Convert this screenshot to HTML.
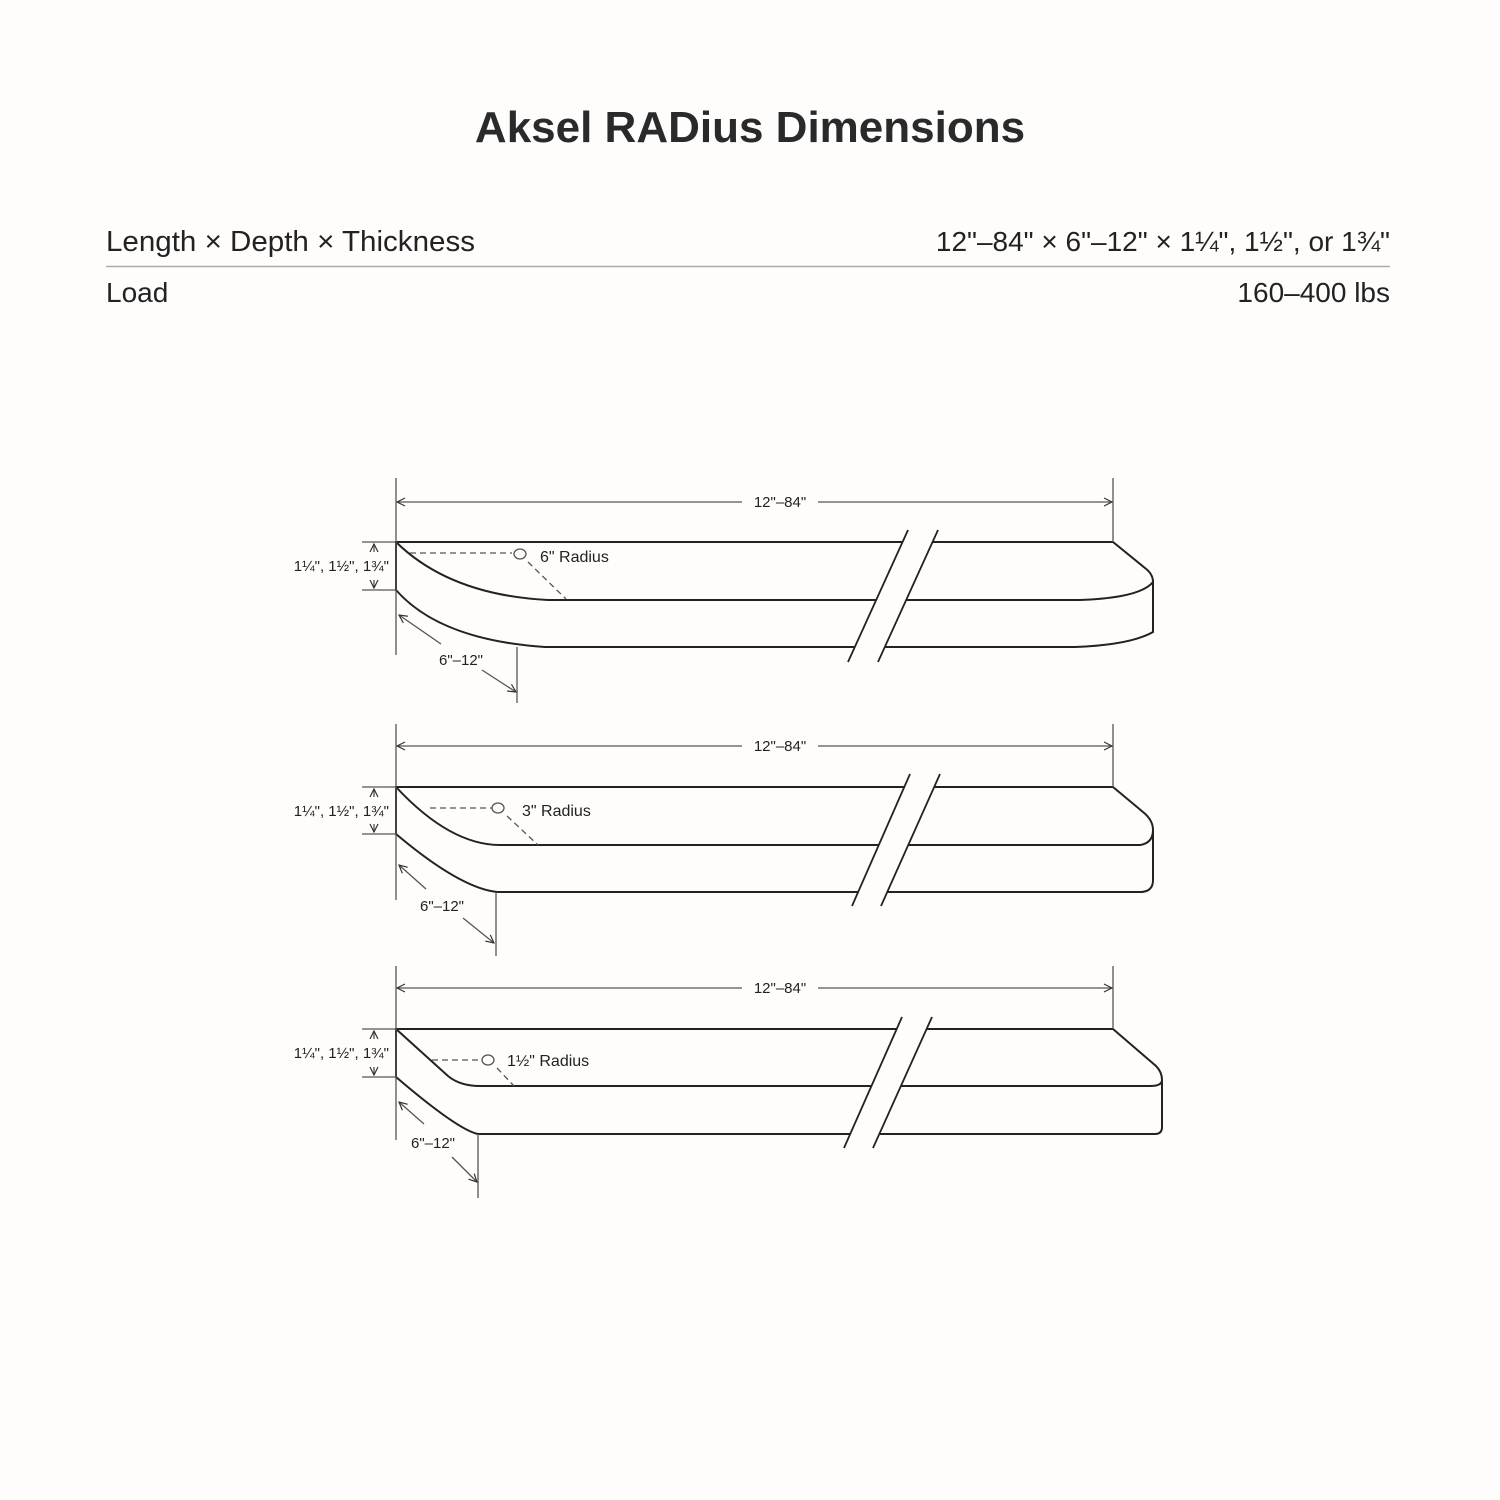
<!DOCTYPE html>
<html><head><meta charset="utf-8"><style>
html,body{margin:0;padding:0;background:#fefdfc;}
svg{display:block}
</style></head><body>
<svg width="1500" height="1500" viewBox="0 0 1500 1500" xmlns="http://www.w3.org/2000/svg" font-family="Liberation Sans, sans-serif">
<defs>
<marker id="a" markerWidth="10" markerHeight="10" refX="9" refY="5" orient="auto-start-reverse" markerUnits="userSpaceOnUse">
<path d="M1,1 L9,5 L1,9" fill="none" stroke="#333" stroke-width="1.2"/>
</marker>
</defs>
<rect width="1500" height="1500" fill="#fefdfc"/>
<text x="750" y="142" text-anchor="middle" font-size="44" font-weight="bold" fill="#2a2a2a">Aksel RADius Dimensions</text>
<text x="106" y="251" font-size="28.5" fill="#222" textLength="369" lengthAdjust="spacingAndGlyphs">Length × Depth × Thickness</text>
<text x="1390" y="251" font-size="28" fill="#222" text-anchor="end">12"–84" × 6"–12" × 1¼", 1½", or 1¾"</text>
<line x1="106" y1="266.5" x2="1390" y2="266.5" stroke="#aaa" stroke-width="1.5"/>
<text x="106" y="302" font-size="28" fill="#222">Load</text>
<text x="1390" y="302" font-size="28" fill="#222" text-anchor="end">160–400 lbs</text>

<g fill="none" stroke="#222" stroke-width="2">
<path d="M396,542 H1113 L1145,568 Q1153,574 1153,582 V632 Q1130,645 1075,647 H545 Q440,640 396,590 Z" fill="#fefdfc"/>
<path d="M396,542 Q450,595 548,600 H1080 Q1140,598 1153,582"/>
<line x1="396" y1="542" x2="396" y2="590"/>
<path d="M396,787 H1113 L1143,812 Q1153,820 1153,830 V880 Q1153,892 1140,892 H497 Q460,888 396,834 Z" fill="#fefdfc"/>
<path d="M396,787 Q450,845 500,845 H1140 Q1153,843 1153,830"/>
<line x1="396" y1="787" x2="396" y2="834"/>
<path d="M396,1029 H1113 L1156,1066 Q1162,1072 1162,1080 V1127 Q1162,1134 1155,1134 H478 Q458,1130 396,1077 Z" fill="#fefdfc"/>
<path d="M396,1029 L448,1076 Q460,1086 480,1086 H1150 Q1162,1086 1162,1080"/>
<line x1="396" y1="1029" x2="396" y2="1077"/>
</g>
<g stroke="#222" stroke-width="1.8">
<polygon points="908,530 938,530 878,662 848,662" fill="#fefdfc" stroke="none"/>
<line x1="908" y1="530" x2="848" y2="662"/><line x1="938" y1="530" x2="878" y2="662"/>
<polygon points="910,774 940,774 881,906 852,906" fill="#fefdfc" stroke="none"/>
<line x1="910" y1="774" x2="852" y2="906"/><line x1="940" y1="774" x2="881" y2="906"/>
<polygon points="902,1017 932,1017 873,1148 844,1148" fill="#fefdfc" stroke="none"/>
<line x1="902" y1="1017" x2="844" y2="1148"/><line x1="932" y1="1017" x2="873" y2="1148"/>
</g>

<g stroke="#555" stroke-width="1.3" fill="none">
<line x1="396" y1="478" x2="396" y2="655"/><line x1="1113" y1="478" x2="1113" y2="542"/>
<line x1="397" y1="502" x2="742" y2="502" marker-start="url(#a)"/><line x1="818" y1="502" x2="1112" y2="502" marker-end="url(#a)"/>
<line x1="362" y1="542" x2="396" y2="542"/><line x1="362" y1="590" x2="396" y2="590"/>
<line x1="374" y1="544" x2="374" y2="552" marker-start="url(#a)"/><line x1="374" y1="580" x2="374" y2="588" marker-end="url(#a)"/>
<line x1="399" y1="615" x2="441" y2="644" marker-start="url(#a)"/><line x1="482" y1="670" x2="516" y2="692" marker-end="url(#a)"/>
<line x1="517" y1="647" x2="517" y2="703"/>
<line x1="410" y1="553" x2="512" y2="553" stroke-dasharray="6,4"/>
<ellipse cx="520" cy="554" rx="6" ry="5"/>
<line x1="528" y1="562" x2="566" y2="599" stroke-dasharray="6,4"/>
<line x1="396" y1="724" x2="396" y2="900"/><line x1="1113" y1="724" x2="1113" y2="787"/>
<line x1="397" y1="746" x2="742" y2="746" marker-start="url(#a)"/><line x1="818" y1="746" x2="1112" y2="746" marker-end="url(#a)"/>
<line x1="362" y1="787" x2="396" y2="787"/><line x1="362" y1="834" x2="396" y2="834"/>
<line x1="374" y1="789" x2="374" y2="797" marker-start="url(#a)"/><line x1="374" y1="824" x2="374" y2="832" marker-end="url(#a)"/>
<line x1="399" y1="865" x2="426" y2="889" marker-start="url(#a)"/><line x1="463" y1="918" x2="494" y2="943" marker-end="url(#a)"/>
<line x1="496" y1="892" x2="496" y2="956"/>
<line x1="430" y1="808" x2="492" y2="808" stroke-dasharray="6,4"/>
<ellipse cx="498" cy="808" rx="6" ry="5"/>
<line x1="507" y1="816" x2="538" y2="845" stroke-dasharray="6,4"/>
<line x1="396" y1="966" x2="396" y2="1140"/><line x1="1113" y1="966" x2="1113" y2="1029"/>
<line x1="397" y1="988" x2="742" y2="988" marker-start="url(#a)"/><line x1="818" y1="988" x2="1112" y2="988" marker-end="url(#a)"/>
<line x1="362" y1="1029" x2="396" y2="1029"/><line x1="362" y1="1077" x2="396" y2="1077"/>
<line x1="374" y1="1031" x2="374" y2="1039" marker-start="url(#a)"/><line x1="374" y1="1067" x2="374" y2="1075" marker-end="url(#a)"/>
<line x1="399" y1="1102" x2="424" y2="1124" marker-start="url(#a)"/><line x1="452" y1="1157" x2="477" y2="1182" marker-end="url(#a)"/>
<line x1="478" y1="1134" x2="478" y2="1198"/>
<line x1="432" y1="1060" x2="480" y2="1060" stroke-dasharray="6,4"/>
<ellipse cx="488" cy="1060" rx="6" ry="5"/>
<line x1="497" y1="1068" x2="514" y2="1086" stroke-dasharray="6,4"/>
</g>

<g font-size="15" fill="#222">
<text x="780" y="507" text-anchor="middle">12"–84"</text>
<text x="389" y="571" text-anchor="end">1¼", 1½", 1¾"</text>
<text x="461" y="665" text-anchor="middle">6"–12"</text>
<text x="540" y="562" font-size="16">6" Radius</text>
<text x="780" y="751" text-anchor="middle">12"–84"</text>
<text x="389" y="816" text-anchor="end">1¼", 1½", 1¾"</text>
<text x="442" y="911" text-anchor="middle">6"–12"</text>
<text x="522" y="816" font-size="16">3" Radius</text>
<text x="780" y="993" text-anchor="middle">12"–84"</text>
<text x="389" y="1058" text-anchor="end">1¼", 1½", 1¾"</text>
<text x="433" y="1148" text-anchor="middle">6"–12"</text>
<text x="507" y="1066" font-size="16">1½" Radius</text>
</g>
</svg>
</body></html>
